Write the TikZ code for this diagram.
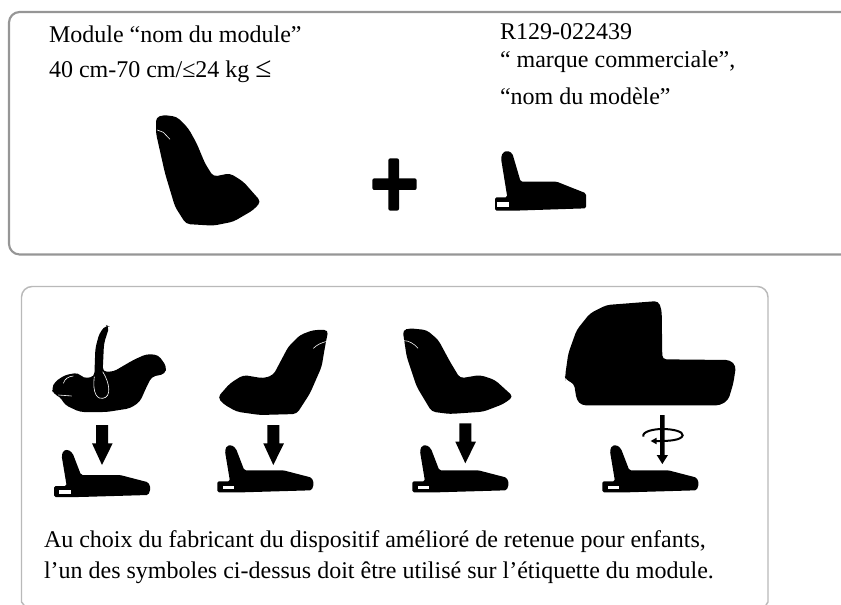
\documentclass[tikz,border=0pt]{standalone}
\usepackage{fontspec}
\setmainfont{Liberation Serif}
\newcommand{\zbase}[2]{%
\begin{scope}[shift={(#1,#2)},x=.25pt,y=-.25pt]
\fill[inkblack,rounded corners=1.2pt] (162,618)--(200,618)--(185,528)--(190,512)--(205,509)--(218,520)--(243,585)--(360,585)--(445,607)--(452,625)--(445,645)--(240,651)--(162,651)--cycle;
\fill[white] (178,631) rectangle (212,641);
\end{scope}}
\newcommand{\zarrow}[3]{%
\begin{scope}[shift={(#1,#2)},x=.25pt,y=-.25pt]
\fill[inkblack] (288,#3)--(324,#3)--(324,490)--(338,490)--(306,555)--(276,490)--(288,490)--cycle;
\end{scope}}
\tikzset{
  panelA/.style={draw=framegray,line width=1.6pt,rounded corners=8pt},
  panelB/.style={draw=framelight,line width=1.1pt,rounded corners=8pt},
  lbl/.style={anchor=base west,inner sep=0pt,outer sep=0pt,font=\fontsize{18pt}{20pt}\selectfont},
  thinwhite/.style={draw=white,line width=.45pt}
}
\definecolor{inkblack}{RGB}{0,0,0}
\definecolor{framegray}{RGB}{150,150,150}
\definecolor{framelight}{RGB}{185,185,185}
\begin{document}
\begin{tikzpicture}[x=.75pt,y=-.75pt]
\useasboundingbox (0,0) rectangle (841,605);
% panels
\draw[panelA] (841,12)--(9,12)--(9,254.5)--(841,254.5);
\draw[panelB] (21.5,602)--(21.5,286.5)--(768,286.5)--(768,602);
\draw[panelB,rounded corners=0pt] (21.5,602)--(24,605);
\draw[panelB,rounded corners=0pt] (768,602)--(766,605);
% top texts
\node[lbl] (t1) at (49,43) {Module “nom du module”};
\node[lbl] (t2) at (49,77.5) {40 cm-70 cm/≤24 kg \fontsize{22pt}{22pt}\selectfont≤};
\node[lbl] (t3) at (500,39.5) {R129-022439};
\node[lbl] (t4) at (500,68) {“ marque commerciale”,};
\node[lbl] (t5) at (500,104.5) {“nom du modèle”};
% top seat
\begin{scope}[x=.25pt,y=-.25pt]
\fill[inkblack,rounded corners=3pt] (468,352)--(490,345)--(530,350)--(565,385)--(590,430)--(615,490)--(640,530)--(690,520)--(730,545)--(783,605)--(760,630)--(700,665)--(640,677)--(558,672)--(525,620)--(495,520)--(468,400)--cycle;
\draw[thinwhite] (472,390)--(490,397)--(510,418);
\end{scope}
% plus
\begin{scope}[x=.25pt,y=-.25pt]
\fill[inkblack,rounded corners=1.5pt] (1165,475) rectangle (1197,632);
\fill[inkblack,rounded corners=1.5pt] (1117,535) rectangle (1250,570);
\end{scope}
% top base
\begin{scope}[shift={(420,0)},x=.25pt,y=-.25pt]
\fill[inkblack,rounded corners=1.2pt] (225,592)--(262,592)--(243,475)--(248,458)--(262,452)--(277,460)--(302,545)--(410,545)--(498,580)--(498,625)--(285,632)--(225,632)--cycle;
\fill[white] (232,607) rectangle (268,620);
\end{scope}
% lower row: infant carrier
\begin{scope}[shift={(0,280)},x=.25pt,y=-.25pt]
\fill[inkblack,rounded corners=3pt] (155,325)--(165,305)--(195,285)--(235,278)--(250,295)--(283,290)--(286,205)--(298,160)--(318,135)--(328,140)--(312,190)--(308,275)--(340,275)--(400,240)--(440,222)--(475,225)--(500,260)--(495,282)--(455,290)--(440,320)--(420,365)--(390,385)--(320,396)--(240,396)--(195,375)--(180,350)--(160,342)--cycle;
\draw[thinwhite] (283,290)..controls (276,345) and (295,358) .. (308,355) .. controls (335,352) and (330,310) .. (308,275);
\draw[thinwhite] (190,310) .. controls (195,295) and (205,290) .. (220,288);
\draw[thinwhite] (175,345)--(215,348);
% forward seat
\fill[inkblack,rounded corners=3pt] (985,150)--(940,150)--(900,165)--(865,200)--(820,285)--(790,295)--(730,285)--(690,310)--(653,352)--(670,372)--(710,395)--(780,405)--(890,402)--(930,340)--(965,260)--(975,200)--cycle;
\draw[thinwhite] (940,205) .. controls (950,195) and (965,187) .. (982,184);
\end{scope}
% rear seat
\begin{scope}[shift={(400,280)},x=.25pt,y=-.25pt]
\fill[inkblack,rounded corners=3pt] (8,150)--(30,145)--(80,150)--(115,180)--(150,245)--(180,295)--(240,285)--(285,300)--(340,350)--(310,372)--(250,395)--(150,402)--(95,395)--(50,320)--(20,230)--cycle;
\draw[thinwhite] (12,182) .. controls (25,182) and (42,190) .. (54,205);
% carrycot
\fill[inkblack,rounded corners=3pt] (495,290)--(505,220)--(530,150)--(570,100)--(620,75)--(775,63)--(785,90)--(787,238)--(990,240)--(1008,258)--(1000,310)--(985,360)--(960,376)--(545,376)--(530,360)--(522,310)--(497,300)--cycle;
% rotation arrow
\draw[inkblack,line width=1.5pt] (730,470) .. controls (725,455) and (760,447) .. (787,447) .. controls (820,447) and (850,455) .. (848,466) .. controls (845,480) and (810,484) .. (765,483);
\fill[inkblack] (752,483)--(770,473)--(770,493)--cycle;
\fill[inkblack] (780,405)--(794,405)--(794,525)--(804,525)--(787,552)--(770,525)--(780,525)--cycle;
\end{scope}
% lower row arrows and bases
\begin{scope}[shift={(0,280)}]
\zarrow{0}{0}{435}
\zarrow{171.3}{0}{435}
\zarrow{363.3}{-1.7}{435}
\zbase{0}{0}
\zbase{163.3}{-4.7}
\zbase{358.3}{-4.7}
\zbase{548.3}{-4.7}
\end{scope}
% bottom text
\node[lbl] (t6) at (44,547) {Au choix du fabricant du dispositif amélioré de retenue pour enfants,};
\node[lbl] (t7) at (44,578) {l’un des symboles ci-dessus doit être utilisé sur l’étiquette du module.};
\end{tikzpicture}
\end{document}
